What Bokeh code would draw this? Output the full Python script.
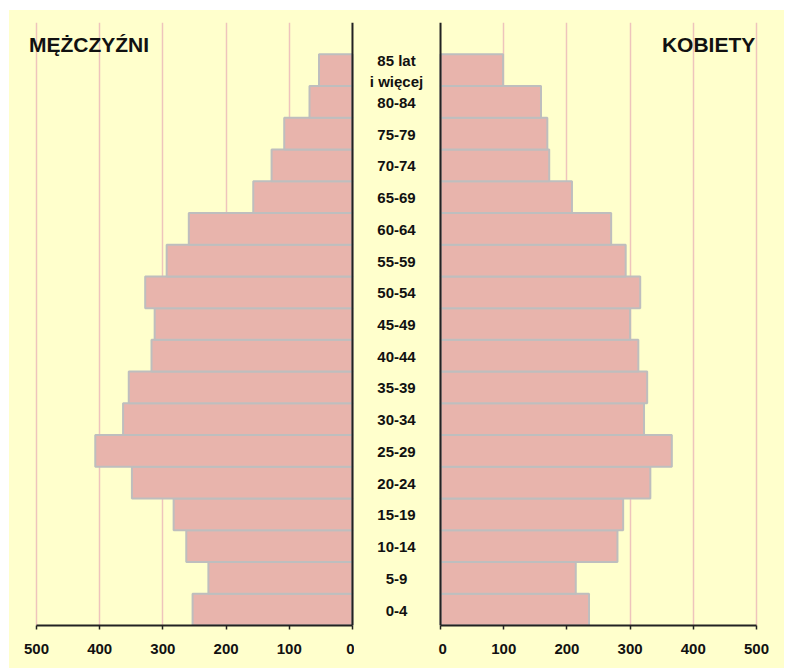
from bokeh.plotting import figure
from bokeh.layouts import row
from bokeh.models import Range1d, FixedTicker, Span, Label
from bokeh.embed import file_html
from bokeh.resources import INLINE
from bokeh.core.properties import value

# ---- data (thousands of persons) ----
age_groups = ["0-4", "5-9", "10-14", "15-19", "20-24", "25-29", "30-34", "35-39",
              "40-44", "45-49", "50-54", "55-59", "60-64", "65-69", "70-74",
              "75-79", "80-84", "85 lat\ni więcej"]
men = [253, 228, 263, 283, 349, 407, 363, 354, 318, 313, 328, 294, 259, 157, 128, 108, 68, 53]
women = [235, 214, 280, 289, 332, 366, 322, 327, 313, 300, 316, 293, 270, 208, 172, 169, 159, 99]
tick_values = [0, 100, 200, 300, 400, 500]
grid_values = [100, 200, 300, 400, 500]
title_men = "MĘŻCZYŹNI"
title_women = "KOBIETY"

BG = "#FFFFCC"
BAR = "#E8B4AC"
EDGE = "#BEBEBE"
GRID = "#EEC4BC"
AXIS = "#222222"
FONT = "Liberation Sans"

y_idx = list(range(len(age_groups)))
yr = Range1d(-0.5, len(age_groups) + 0.5)

H = 658
TOP = 12
BOTTOM = 43


def base(width, xr, with_xaxis=True):
    p = figure(width=width, height=H, x_range=xr, y_range=yr,
               output_backend="svg", toolbar_location=None,
               y_axis_location=None,
               x_axis_location="below" if with_xaxis else None,
               min_border=0, min_border_top=TOP, min_border_bottom=BOTTOM,
               background_fill_color=BG, border_fill_color=BG,
               outline_line_color=None)
    p.ygrid.visible = False
    return p


def panel(width, xr, values):
    p = base(width, xr)
    p.xgrid.ticker = FixedTicker(ticks=grid_values)
    p.xgrid.grid_line_color = GRID
    p.xgrid.grid_line_width = 1.5
    p.hbar(y=y_idx, left=0, right=values, height=1.0,
           fill_color=BAR, line_color=EDGE, line_width=2)
    p.add_layout(Span(location=0, dimension="height", line_color=AXIS, line_width=2))
    ax = p.xaxis[0]
    ax.ticker = FixedTicker(ticks=tick_values)
    ax.bounds = (0, 500)
    ax.axis_line_color = AXIS
    ax.axis_line_width = 2
    ax.major_tick_line_color = AXIS
    ax.major_tick_line_width = 1.5
    ax.major_tick_in = 0
    ax.major_tick_out = 4
    ax.minor_tick_line_color = None
    ax.major_label_standoff = 14
    ax.major_label_text_font = FONT
    ax.major_label_text_font_style = "bold"
    ax.major_label_text_font_size = "15px"
    ax.major_label_text_color = "#111111"
    return p


# left panel (reversed axis), middle labels, right panel
left = panel(345, Range1d(542.7, -3.2), men)
mid = base(84, Range1d(0, 1), with_xaxis=False)
mid.xgrid.visible = False
right = panel(346, Range1d(-3.2, 544.3), women)

mid.text(x=[0.5] * len(age_groups), y=y_idx, text=age_groups,
         text_align="center", text_baseline="middle",
         text_font=value(FONT), text_font_style="bold",
         text_font_size="15px", text_color="#111111",
         text_line_height=1.2, y_offset=1)

left.add_layout(Label(x=512, y=17.8, text=title_men, text_align="left",
                      text_baseline="middle", text_font=FONT,
                      text_font_style="bold", text_font_size="21px",
                      text_color="#111111"))
right.add_layout(Label(x=498, y=17.8, text=title_women, text_align="right",
                       text_baseline="middle", text_font=FONT,
                       text_font_style="bold", text_font_size="21px",
                       text_color="#111111"))

layout = row(left, mid, right, spacing=0, margin=(10, 0, 0, 9))
layout.background = BG

open("out.html", "w").write(file_html(layout, INLINE))
